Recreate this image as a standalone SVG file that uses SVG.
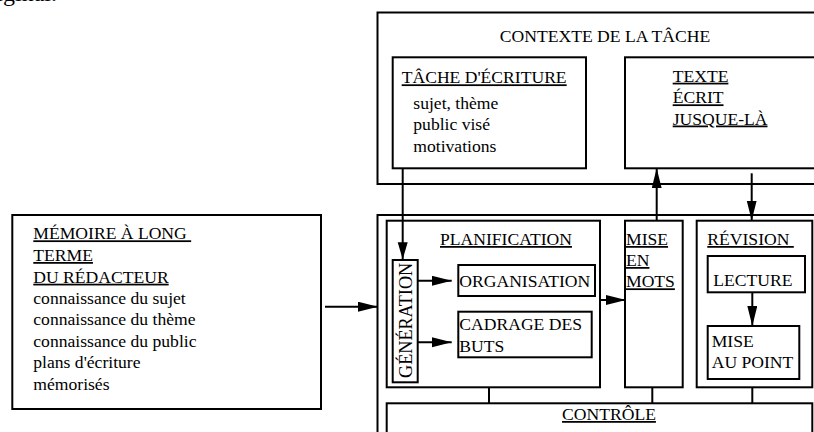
<svg xmlns="http://www.w3.org/2000/svg" width="814" height="432" viewBox="0 0 814 432">
  <style>
    .box { fill: none; stroke: #000; stroke-width: 2; }
    .wire { fill: none; stroke: #000; stroke-width: 2; }
    text { font-family: "Liberation Serif", "Times New Roman", serif; font-size: 17.6px; fill: #000; }
    .u { text-decoration: underline; }
    .mid { text-anchor: middle; }
  </style>
  <defs>
    <marker id="arrow" markerUnits="userSpaceOnUse" markerWidth="22" markerHeight="12" refX="20" refY="5" orient="auto">
      <path d="M0,0 L20,5 L0,10 z" fill="#000"/>
    </marker>
    <marker id="arrowShort" markerUnits="userSpaceOnUse" markerWidth="20" markerHeight="12" refX="17" refY="5" orient="auto">
      <path d="M0,0 L17,5 L0,10 z" fill="#000"/>
    </marker>
  </defs>
  <rect width="814" height="432" fill="#fff"/>

  <!-- tail of the preceding line of text -->
  <text x="-23.7" y="1" style="font-size:24px">original.</text>

  <!-- task context -->
  <g id="contexte">
    <rect class="box" x="377.5" y="12.5" width="445" height="171.5"/>
    <text class="mid" x="605" y="41.7">CONTEXTE DE LA TÂCHE</text>
  </g>
  <g id="tache-ecriture">
    <rect class="box" x="392.7" y="57.3" width="193.3" height="111"/>
    <text class="u" x="401.7" y="83.3">TÂCHE D'ÉCRITURE</text>
    <text x="413.3" y="108.5">sujet, thème</text>
    <text x="413.3" y="130">public visé</text>
    <text x="413.3" y="151.7">motivations</text>
  </g>
  <g id="texte-ecrit">
    <rect class="box" x="625" y="57.3" width="200" height="111"/>
    <text class="u" x="672.7" y="81.7">TEXTE</text>
    <text class="u" x="672.7" y="103.3">ÉCRIT</text>
    <text class="u" x="672.7" y="124.5">JUSQUE-LÀ</text>
  </g>

  <!-- long-term memory -->
  <g id="memoire">
    <rect class="box" x="12.3" y="215" width="308.7" height="194"/>
    <text class="u" x="33.3" y="239.3" xml:space="preserve">MÉMOIRE À LONG </text>
    <text class="u" x="33.3" y="261">TERME</text>
    <text class="u" x="33.3" y="282.7">DU RÉDACTEUR</text>
    <text x="33.3" y="303.5">connaissance du sujet</text>
    <text x="33.3" y="325">connaissance du thème</text>
    <text x="33.3" y="346.7">connaissance du public</text>
    <text x="33.3" y="368.3">plans d'écriture</text>
    <text x="33.3" y="390">mémorisés</text>
  </g>

  <!-- writing processes -->
  <g id="processus">
    <rect class="box" x="377.5" y="215" width="445" height="230"/>
  </g>
  <g id="planification">
    <rect class="box" x="386.7" y="220.7" width="213.3" height="166.6"/>
    <text class="u" x="440" y="245">PLANIFICATION</text>
  </g>
  <g id="generation">
    <rect class="box" x="392.7" y="260" width="25" height="122.3"/>
    <text x="412.3" y="378" transform="rotate(-90 412.3 378)" style="font-size:18.2px">GÉNÉRATION</text>
  </g>
  <g id="organisation">
    <rect class="box" x="458.3" y="265" width="136.7" height="31"/>
    <text x="459.3" y="287.3">ORGANISATION</text>
  </g>
  <g id="cadrage">
    <rect class="box" x="458.3" y="311.7" width="133.4" height="45.6"/>
    <text x="459.3" y="330">CADRAGE DES</text>
    <text x="459.3" y="351.7">BUTS</text>
  </g>
  <g id="mise-en-mots">
    <rect class="box" x="625" y="220.7" width="57.7" height="166.6"/>
    <text class="u" x="626" y="245">MISE</text>
    <text class="u" x="626" y="266">EN</text>
    <text class="u" x="626" y="287.3">MOTS</text>
  </g>
  <g id="revision">
    <rect class="box" x="696.7" y="220.7" width="115.6" height="166.6"/>
    <text class="u" x="707.3" y="245" xml:space="preserve">RÉVISION </text>
  </g>
  <g id="lecture">
    <rect class="box" x="707.7" y="256" width="97.3" height="36.3"/>
    <text x="713.3" y="286">LECTURE</text>
  </g>
  <g id="mise-au-point">
    <rect class="box" x="707.7" y="326" width="91.6" height="53"/>
    <text x="711.7" y="346.7">MISE</text>
    <text x="711.7" y="368.3">AU POINT</text>
  </g>
  <g id="controle">
    <rect class="box" x="386.7" y="403.3" width="425.6" height="40"/>
    <text class="u mid" x="609" y="420">CONTRÔLE</text>
  </g>

  <!-- connectors -->
  <g id="connecteurs">
    <line class="wire" x1="402.7" y1="168.3" x2="402.7" y2="259.3" marker-end="url(#arrowShort)"/>
    <line class="wire" x1="656.7" y1="220.7" x2="656.7" y2="168.3" marker-end="url(#arrow)"/>
    <line class="wire" x1="751.7" y1="173.3" x2="751.7" y2="220.5" marker-end="url(#arrow)"/>
    <line class="wire" x1="325" y1="306.7" x2="378" y2="306.7" marker-end="url(#arrow)"/>
    <line class="wire" x1="417.7" y1="280.7" x2="451.7" y2="280.7" marker-end="url(#arrow)"/>
    <line class="wire" x1="417.7" y1="342.3" x2="451.7" y2="342.3" marker-end="url(#arrow)"/>
    <line class="wire" x1="600" y1="300" x2="626" y2="300" marker-end="url(#arrow)"/>
    <line class="wire" x1="752.3" y1="292.3" x2="752.3" y2="326" marker-end="url(#arrow)"/>
    <line class="wire" x1="489" y1="387.3" x2="489" y2="403.3"/>
    <line class="wire" x1="652.3" y1="387.3" x2="652.3" y2="403.3"/>
    <line class="wire" x1="752.3" y1="387.3" x2="752.3" y2="403.3"/>
  </g>
</svg>
